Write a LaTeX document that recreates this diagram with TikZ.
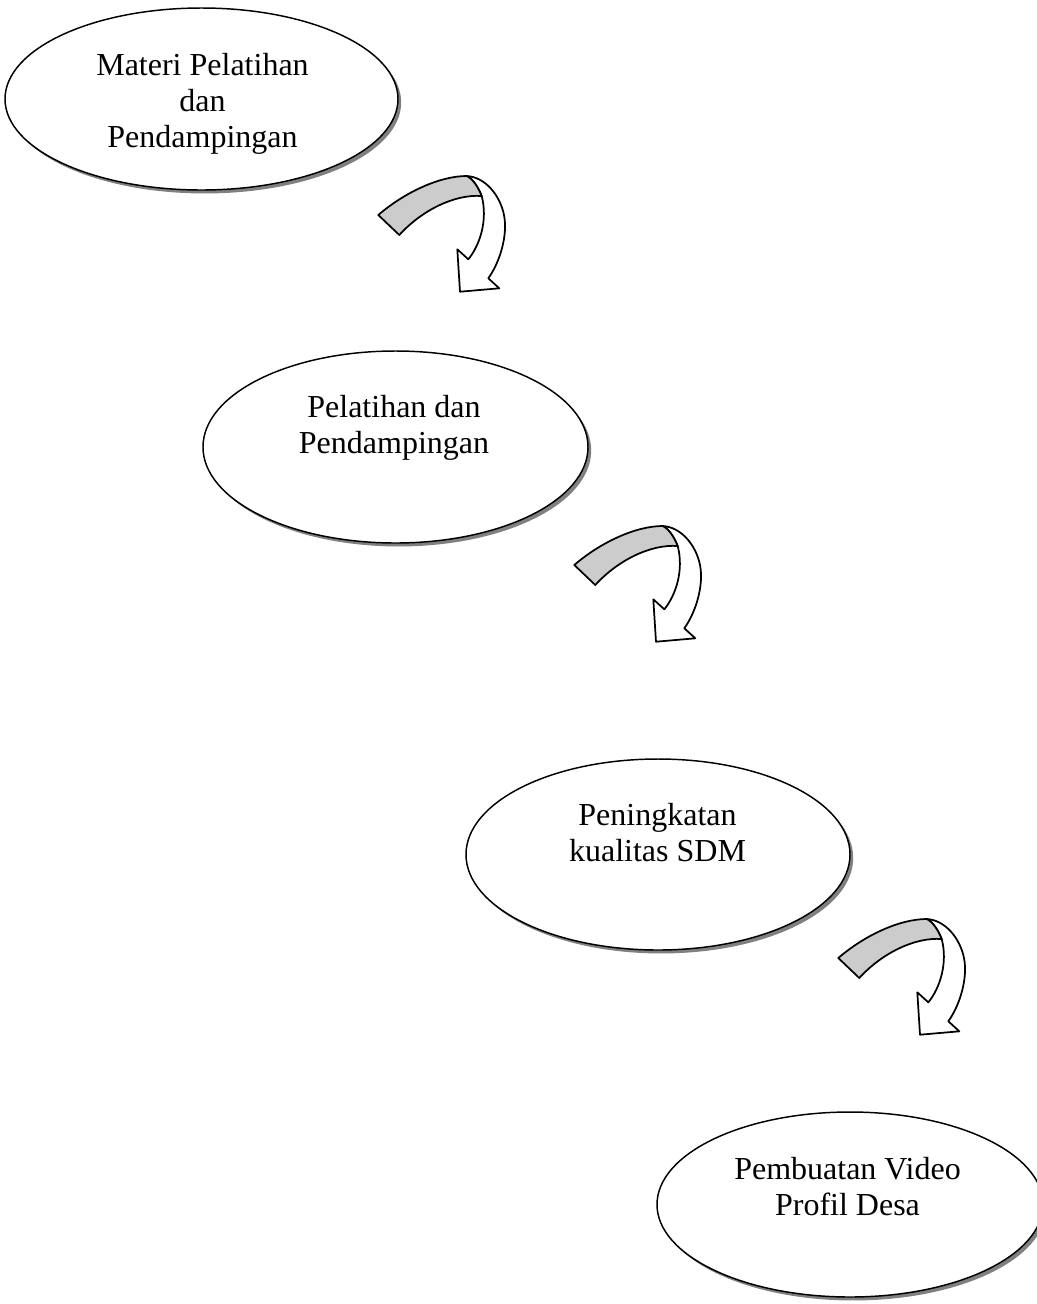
\documentclass[tikz,border=0pt]{standalone}
\usepackage{fontspec}
\setmainfont{Liberation Serif}
\usetikzlibrary{shapes.geometric,shadows}
\definecolor{ribbongray}{HTML}{CCCCCC}
\definecolor{shadowgray}{HTML}{808080}
\tikzset{
  bubble/.style={ellipse, draw=black, line width=1.1pt, fill=white, inner sep=0pt,
    drop shadow={shadow xshift=2.4pt, shadow yshift=-2.6pt, fill=shadowgray, opacity=1}},
  txt/.style={font=\fontsize{24}{27}\selectfont, align=center, inner sep=0pt},
  ribbon/.style={draw=black, line width=1.3pt, line join=round},
  curvearrow/.pic={
    % white twisted part with arrow head
    \path[ribbon, fill=white] (96.7,6) .. controls (115,7) and (130,25) .. (134,45)
      .. controls (138,65) and (130,92) .. (118.3,108.3)
      -- (129.3,118.3) -- (90,121.7) -- (87.3,79.3) -- (98.3,89.3)
      .. controls (110,75) and (118,50) .. (111.7,26)
      .. controls (108,17) and (103,9) .. cycle;
    % grey band
    \path[ribbon, fill=ribbongray] (8.3,45) .. controls (35,22) and (70,6) .. (96.7,6)
      .. controls (103,9) and (108,17) .. (111.7,26)
      .. controls (85,24) and (52,40) .. (29.3,65) -- cycle;
  }
}
\begin{document}
\begin{tikzpicture}[x=0.75pt, y=-0.75pt]
\useasboundingbox (0,0) rectangle (1037,1304);
\clip (0,0) rectangle (1037,1304);
\fill[white] (0,0) rectangle (1037,1304);

\node[bubble, minimum width=294.75pt, minimum height=136.5pt] (e1) at (201.5,99) {};
\node[bubble, minimum width=288.75pt, minimum height=144pt] (e2) at (395.5,447) {};
\node[bubble, minimum width=288pt, minimum height=143.25pt] (e3) at (658,854.5) {};
\node[bubble, minimum width=289.5pt, minimum height=138.75pt] (e4) at (850,1204.5) {};

\node[txt] (t1) at (202.5,103.4) {Materi Pelatihan\\dan\\Pendampingan};
\node[txt] (t2) at (394,428) {Pelatihan dan\\Pendampingan};
\node[txt] (t3) at (657.5,832.4) {Peningkatan\\kualitas SDM};
\node[txt] (t4) at (847.5,1186.5) {Pembuatan Video\\Profil Desa};

\pic (a1) at (370,170) {curvearrow};
\pic (a2) at (566,520) {curvearrow};
\pic (a3) at (830,913) {curvearrow};
\end{tikzpicture}
\end{document}
